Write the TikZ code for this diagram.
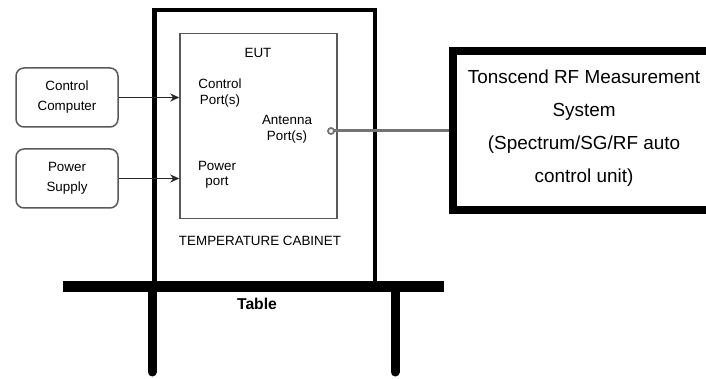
\documentclass[tikz,border=0pt]{standalone}
\usepackage{fontspec}
\setmainfont{Liberation Sans}
\usetikzlibrary{arrows.meta}
\tikzset{
  small/.style={font=\fontsize{13.4}{15.5}\selectfont, align=center, inner sep=0pt},
  sidebox/.style={draw=black!65, line width=1.5pt, rounded corners=8pt, minimum width=102pt, minimum height=59pt, align=center, inner sep=0pt, font=\fontsize{13.4}{20}\selectfont, text width=100pt},
  conn/.style={draw=black!85, line width=1.6pt, -{Stealth[length=9pt,width=8pt]}},
  leg/.style={line width=9pt, line cap=round}
}
\begin{document}
\begin{tikzpicture}[x=1pt,y=-1pt]
\useasboundingbox (0,0) rectangle (706,379);
\clip (0,0) rectangle (706,379);
% cabinet and EUT
\node[draw=black, line width=4.5pt, minimum width=220.5pt, minimum height=277pt, inner sep=0pt] (cab) at (264.75,148.5) {};
\node[draw=black!65, line width=1.5pt, minimum width=157pt, minimum height=185pt, inner sep=0pt] (eut) at (258.5,126) {};
% texts inside
\node[small] (euttxt) at (258,53) {EUT};
\node[small] (cport) at (220,93) {Control\\Port(s)};
\node[small] (aport) at (287,129.5) {Antenna\\Port(s)};
\node[small] (pport) at (217,175) {Power\\port};
\node[small] (cabtxt) at (260,241) {TEMPERATURE CABINET};
% side boxes
\node[sidebox] (cc) at (67,97.5) {Control\\Computer};
\node[sidebox] (ps) at (67,178.5) {Power\\Supply};
\draw[conn] (cc.east) -- (cc.east -| eut.west);
\draw[conn] (ps.east) -- (ps.east -| eut.west);
% Tonscend box
\node[draw=black, line width=8pt, minimum width=263pt, minimum height=159pt, inner sep=0pt] (tons) at (584,131) {};
\node[font=\fontsize{18.9}{33}\selectfont, align=center, inner sep=0pt] (tonstxt) at (584,128) {Tonscend RF Measurement\\System\\(Spectrum/SG/RF auto\\control unit)};
% antenna line
\coordinate (ant) at (331,131);
\draw[draw=black!55, line width=3pt] (ant) -- (ant -| tons.west);
\draw[draw=black!55, line width=1.8pt, fill=white] (ant) circle (3pt);
% table
\fill[black] (63,281) rectangle (444,292);
\coordinate (l1) at (152,290);
\coordinate (l2) at (152,372);
\coordinate (r1) at (395,290);
\coordinate (r2) at (395,372);
\draw[leg] (l1) -- (l2);
\draw[leg] (r1) -- (r2);
\node[font=\fontsize{15.7}{17}\selectfont\bfseries, inner sep=0pt] (tabletxt) at (257,304) {Table};
\end{tikzpicture}
\end{document}
